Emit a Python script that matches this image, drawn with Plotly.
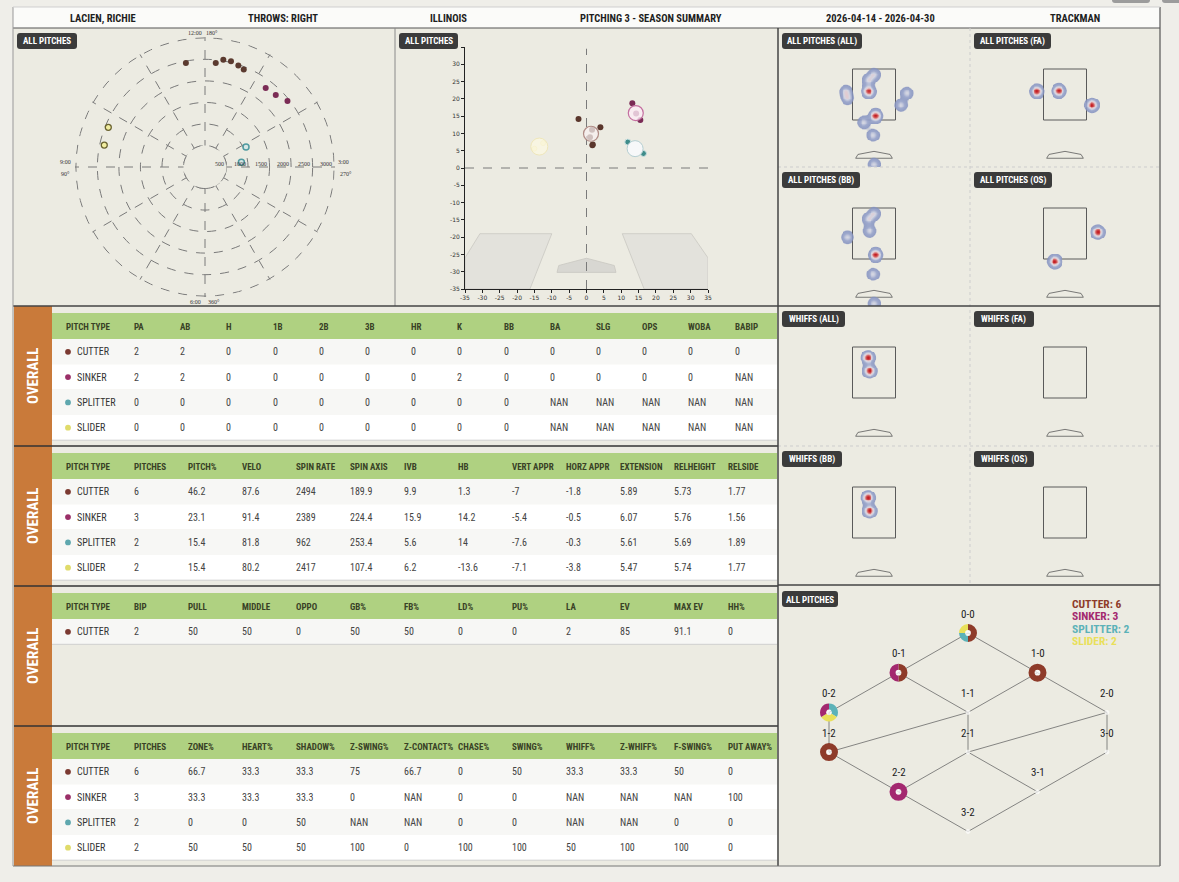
import numpy as np
import plotly.graph_objects as go

W, H = 1179, 882
FONT = "Roboto Condensed, Liberation Sans Narrow, DejaVu Sans Condensed, sans-serif"
SERIF = "Liberation Serif, DejaVu Serif, serif"

PAGE_BG = "#efeee9"
PANEL_BG = "#ecebe2"
HEADER_BG = "#fbfbf9"
GREEN = "#afd181"
ORANGE = "#c97a3a"
BADGE = "#3b3b3b"

# header strip
HEADER_TEXT = ["LACIEN, RICHIE", "THROWS: RIGHT", "ILLINOIS", "PITCHING 3 - SEASON SUMMARY",
               "2026-04-14 - 2026-04-30", "TRACKMAN"]
HEADER_X = [103, 283, 448, 651, 880, 1075]

PITCH_TYPES = ["CUTTER", "SINKER", "SPLITTER", "SLIDER"]
DOT_COLORS = ["#7b3a31", "#9a2f68", "#5ea7ae", "#e0db6a"]
TREE_COLORS = ["#8e3b2a", "#a3286f", "#5cb2b8", "#e9e05a"]

# spin axis (deg) and spin rate (rpm) per pitch
CUT_AXIS = [169.6, 185.9, 189.7, 193.8, 198.2, 201.7]
CUT_RATE = [2458, 2430, 2525, 2530, 2480, 2435]
SNK_AXIS = [217.5, 224.5, 231.3]
SNK_RATE = [2316, 2346, 2455]
SPL_AXIS = [244.0, 262.7]
SPL_RATE = [1060, 852]
SLD_AXIS = [112.3, 102.3]
SLD_RATE = [2428, 2395]
RATE_TICKS = [500, 1000, 1500, 2000, 2500, 3000]

# horizontal break / induced vertical break per pitch (in)
CUT_HB = [-2.3, 4.0, 1.7, 1.6, 1.0, 1.8]
CUT_IVB = [14.2, 11.8, 6.6, 11.1, 8.9, 6.8]
SNK_HB = [13.2, 15.5, 14.3]
SNK_IVB = [18.7, 13.9, 15.8]
SPL_HB = [11.9, 16.4]
SPL_IVB = [7.5, 4.2]
SLD_HB = [-15.0, -12.5]
SLD_IVB = [5.6, 7.2]

# plate locations (ft)
FA_X = [-1.08, -0.23, 1.05]
FA_Z = [2.62, 2.64, 2.08]
BB_X = [-0.20, 0.01, -0.16, -1.02, 0.07, 0.07, -0.03, 0.01]
BB_Z = [3.06, 3.28, 2.60, 2.35, 1.66, 1.66, 0.90, -0.25]
OS_X = [1.28, -0.39]
OS_Z = [2.55, 1.40]
WHIFF_BB_X = [-0.22, -0.16]
WHIFF_BB_Z = [3.08, 2.56]

# tables
T1_HEAD = ["PITCH TYPE", "PA", "AB", "H", "1B", "2B", "3B", "HR", "K", "BB", "BA", "SLG", "OPS", "WOBA", "BABIP"]
T1_ROWS = [
    ["CUTTER", "2", "2", "0", "0", "0", "0", "0", "0", "0", "0", "0", "0", "0", "0"],
    ["SINKER", "2", "2", "0", "0", "0", "0", "0", "2", "0", "0", "0", "0", "0", "NAN"],
    ["SPLITTER", "0", "0", "0", "0", "0", "0", "0", "0", "0", "NAN", "NAN", "NAN", "NAN", "NAN"],
    ["SLIDER", "0", "0", "0", "0", "0", "0", "0", "0", "0", "NAN", "NAN", "NAN", "NAN", "NAN"],
]
T2_HEAD = ["PITCH TYPE", "PITCHES", "PITCH%", "VELO", "SPIN RATE", "SPIN AXIS", "IVB", "HB",
           "VERT APPR", "HORZ APPR", "EXTENSION", "RELHEIGHT", "RELSIDE"]
T2_ROWS = [
    ["CUTTER", "6", "46.2", "87.6", "2494", "189.9", "9.9", "1.3", "-7", "-1.8", "5.89", "5.73", "1.77"],
    ["SINKER", "3", "23.1", "91.4", "2389", "224.4", "15.9", "14.2", "-5.4", "-0.5", "6.07", "5.76", "1.56"],
    ["SPLITTER", "2", "15.4", "81.8", "962", "253.4", "5.6", "14", "-7.6", "-0.3", "5.61", "5.69", "1.89"],
    ["SLIDER", "2", "15.4", "80.2", "2417", "107.4", "6.2", "-13.6", "-7.1", "-3.8", "5.47", "5.74", "1.77"],
]
T3_HEAD = ["PITCH TYPE", "BIP", "PULL", "MIDDLE", "OPPO", "GB%", "FB%", "LD%", "PU%", "LA", "EV", "MAX EV", "HH%"]
T3_ROWS = [
    ["CUTTER", "2", "50", "50", "0", "50", "50", "0", "0", "2", "85", "91.1", "0"],
]
T4_HEAD = ["PITCH TYPE", "PITCHES", "ZONE%", "HEART%", "SHADOW%", "Z-SWING%", "Z-CONTACT%", "CHASE%",
           "SWING%", "WHIFF%", "Z-WHIFF%", "F-SWING%", "PUT AWAY%"]
T4_ROWS = [
    ["CUTTER", "6", "66.7", "33.3", "33.3", "75", "66.7", "0", "50", "33.3", "33.3", "50", "0"],
    ["SINKER", "3", "33.3", "33.3", "33.3", "0", "NAN", "0", "0", "NAN", "NAN", "NAN", "100"],
    ["SPLITTER", "2", "0", "0", "50", "NAN", "NAN", "0", "0", "NAN", "NAN", "0", "0"],
    ["SLIDER", "2", "50", "50", "50", "100", "0", "100", "100", "50", "100", "100", "0"],
]

# count tree
COUNTS = ["0-0", "0-1", "1-0", "0-2", "1-1", "2-0", "1-2", "2-1", "3-0", "2-2", "3-1", "3-2"]
COUNT_COL = [0, -1, 1, -2, 0, 2, -2, 0, 2, -1, 1, 0]
COUNT_ROW = [0, 1, 1, 2, 2, 2, 3, 3, 3, 4, 4, 5]
COUNT_EDGES = [("0-0", "0-1"), ("0-0", "1-0"), ("0-1", "0-2"), ("0-1", "1-1"), ("1-0", "1-1"),
               ("1-0", "2-0"), ("0-2", "1-2"), ("1-1", "1-2"), ("1-1", "2-1"), ("2-0", "2-1"),
               ("2-0", "3-0"), ("1-2", "2-2"), ("2-1", "2-2"), ("2-1", "3-1"), ("3-0", "3-1"),
               ("2-2", "3-2"), ("3-1", "3-2")]
# pitch mix per count: (pitch type index, pitches)
COUNT_MIX = {
    "0-0": ([0, 2, 3], [2, 1, 1]),
    "0-1": ([0, 1], [1, 1]),
    "1-0": ([0], [2]),
    "0-2": ([2, 3, 1], [1, 1, 1]),
    "1-2": ([0], [1]),
    "2-2": ([1], [1]),
}

shapes, notes = [], []


def fx(x):
    return x / W


def fy(y):
    return 1 - y / H


def rect(x0, y0, x1, y1, fill, layer="below"):
    shapes.append(dict(type="rect", xref="paper", yref="paper", x0=fx(x0), x1=fx(x1), y0=fy(y1), y1=fy(y0),
                       fillcolor=fill, line=dict(width=0), layer=layer))


def seg(x0, y0, x1, y1, color, width=1, dash="solid"):
    shapes.append(dict(type="line", xref="paper", yref="paper", x0=fx(x0), y0=fy(y0), x1=fx(x1), y1=fy(y1),
                       line=dict(color=color, width=width, dash=dash), layer="above"))


def dot(cx, cy, r, color):
    shapes.append(dict(type="circle", xref="paper", yref="paper", x0=fx(cx - r), x1=fx(cx + r),
                       y0=fy(cy + r), y1=fy(cy - r), fillcolor=color, line=dict(width=0), layer="above"))


def rounded(x0, y0, x1, y1, r, fill):
    p = lambda x, y: f"{fx(x):.5f},{fy(y):.5f}"
    path = (f"M {p(x0 + r, y0)} L {p(x1 - r, y0)} Q {p(x1, y0)} {p(x1, y0 + r)} "
            f"L {p(x1, y1 - r)} Q {p(x1, y1)} {p(x1 - r, y1)} L {p(x0 + r, y1)} "
            f"Q {p(x0, y1)} {p(x0, y1 - r)} L {p(x0, y0 + r)} Q {p(x0, y0)} {p(x0 + r, y0)} Z")
    shapes.append(dict(type="path", path=path, xref="paper", yref="paper", fillcolor=fill,
                       line=dict(width=0), layer="above"))


def text(x, y, s, size=9, color="#333", bold=False, anchor="left", angle=0, family=FONT):
    notes.append(dict(x=fx(x), y=fy(y), xref="paper", yref="paper", text=f"<b>{s}</b>" if bold else s,
                      showarrow=False, xanchor=anchor, yanchor="middle", textangle=angle, borderpad=0,
                      font=dict(family=family, size=size, color=color)))


def badge(x0, y0, x1, label):
    rounded(x0, y0, x1, y0 + 16, 3, BADGE)
    text((x0 + x1) / 2, y0 + 8.5, label, 9, "white", True, "center")


# frame and header
rect(13, 7, 1160, 866, PANEL_BG)
rect(13, 7, 1160, 28, HEADER_BG)
for s, x in zip(HEADER_TEXT, HEADER_X):
    text(x, 18, s, 10.5, "#1e1e1e", True, "center")
rounded(1112, -6, 1150, 3, 3, "#9c9c9c")
rounded(1162, -6, 1190, 3, 3, "#9c9c9c")

fig = go.Figure()

# ---- spin axis polar (center 205,167 ; 3000 rpm = 129 px)
ring = np.linspace(0, 360, 73)
fig.add_trace(go.Scatterpolar(r=[500] * len(ring), theta=ring, mode="lines", fill="toself",
                              fillcolor=PANEL_BG, line=dict(color="#7a7a7a", width=1, dash="dash"),
                              hoverinfo="skip", subplot="polar"))
fig.add_trace(go.Scatterpolar(r=[3000] * len(ring), theta=ring, mode="lines",
                              line=dict(color="#7a7a7a", width=1, dash="dash"),
                              hoverinfo="skip", subplot="polar"))
fig.add_trace(go.Scatterpolar(r=CUT_RATE, theta=CUT_AXIS, mode="markers", subplot="polar",
                              marker=dict(size=6, color="#5b3a2f")))
fig.add_trace(go.Scatterpolar(r=SNK_RATE, theta=SNK_AXIS, mode="markers", subplot="polar",
                              marker=dict(size=6, color="#7b2c55")))
fig.add_trace(go.Scatterpolar(r=SPL_RATE, theta=SPL_AXIS, mode="markers", subplot="polar",
                              marker=dict(size=6, color="#d6e6e4", line=dict(color="#4f9aa0", width=1.5))))
fig.add_trace(go.Scatterpolar(r=SLD_RATE, theta=SLD_AXIS, mode="markers", subplot="polar",
                              marker=dict(size=6, color="#f1eda0", line=dict(color="#6a6330", width=1.3))))

for v in RATE_TICKS:
    text(205 + v / 3000 * 129 - 1.5, 163.5, str(v), 6, "#333", False, "right", family=SERIF)
for s, x, y in [("12:00", 195, 33), ("180°", 212, 33), ("9:00", 65, 162), ("90°", 65, 174),
                ("3:00", 343, 162), ("270°", 346, 174), ("6:00", 195, 302), ("360°", 214, 302)]:
    text(x, y, s, 6, "#333", False, "center", family=SERIF)
badge(17, 33, 77, "ALL PITCHES")

# ---- movement plot
def poly(pts):
    return "M " + " L ".join(f"{a},{b}" for a, b in pts) + " Z"


BOX_L = [(-35, -26), (-30.7, -19), (-10, -19), (-16.3, -35), (-35, -35)]
BOX_R = [(10.3, -19), (30.2, -19), (35, -26), (35, -35), (16.6, -35)]
PLATE_MV = [(-8.5, -30.2), (-8, -28.2), (0, -26.1), (8, -28.2), (8.5, -30.2)]
for pts, fill in [(BOX_L, "rgba(226,225,219,0.9)"), (BOX_R, "rgba(226,225,219,0.9)"), (PLATE_MV, "#d8d7d2")]:
    shapes.append(dict(type="path", path=poly(pts), xref="x", yref="y", fillcolor=fill,
                       line=dict(color="#c9c8c2", width=0.8), layer="below"))
shapes.append(dict(type="line", xref="x", yref="y", x0=0, x1=0, y0=-35, y1=34.5,
                   line=dict(color="#7a7a7a", width=1, dash="dash"), layer="below"))
shapes.append(dict(type="line", xref="x", yref="y", x0=-35, x1=35, y0=0, y1=0,
                   line=dict(color="#7a7a7a", width=1, dash="dash"), layer="below"))

mv = [(CUT_HB, CUT_IVB, dict(size=6, color="#5a362c")),
      (SNK_HB, SNK_IVB, dict(size=6, color="#7a2a55")),
      (SPL_HB, SPL_IVB, dict(size=6, color="#3e8c8a", line=dict(color="#cfe3e3", width=1))),
      (SLD_HB, SLD_IVB, dict(size=5, color="#f0ebbf", line=dict(color="#e4dc9a", width=0.8)))]
for hb, ivb, mk in mv:
    fig.add_trace(go.Scatter(x=hb, y=ivb, mode="markers", marker=mk, xaxis="x", yaxis="y"))

MEAN_STYLE = [dict(size=15, color="rgba(248,240,240,0.75)", line=dict(color="#b08c86", width=1.2)),
              dict(size=15, color="rgba(252,236,245,0.8)", line=dict(color="#c46fa0", width=1.2)),
              dict(size=16, color="rgba(247,249,251,0.92)", line=dict(color="#b5cfd2", width=1)),
              dict(size=17, color="rgba(252,248,226,0.75)", line=dict(color="rgba(238,228,175,0.8)", width=1))]
for row, mk in zip(T2_ROWS, MEAN_STYLE):
    fig.add_trace(go.Scatter(x=[float(row[7])], y=[float(row[6])], mode="markers", marker=mk,
                             xaxis="x", yaxis="y"))
badge(399, 33, 458, "ALL PITCHES")

# ---- location heatmaps
ZONE_PANELS = [
    ("ALL PITCHES (ALL)", FA_X + BB_X + OS_X, FA_Z + BB_Z + OS_Z),
    ("ALL PITCHES (FA)", FA_X, FA_Z),
    ("ALL PITCHES (BB)", BB_X, BB_Z),
    ("ALL PITCHES (OS)", OS_X, OS_Z),
    ("WHIFFS (ALL)", WHIFF_BB_X, WHIFF_BB_Z),
    ("WHIFFS (FA)", [], []),
    ("WHIFFS (BB)", WHIFF_BB_X, WHIFF_BB_Z),
    ("WHIFFS (OS)", [], []),
]
BADGE_W = [80, 77, 78, 78, 63, 60, 60, 60]
COL_L, COL_R = [778, 970], [970, 1160]
ROW_T, ROW_B = [28, 167, 306, 446], [167, 306, 446, 585]
HEAT_SCALE = [[0.0, "rgba(140,150,200,0)"], [0.07, "rgba(140,150,200,0)"],
              [0.12, "rgba(132,146,192,0.85)"], [0.3, "rgba(155,166,204,0.95)"],
              [0.5, "rgba(212,214,226,1)"], [0.65, "rgba(229,200,204,1)"],
              [0.82, "rgba(214,110,110,1)"], [1.0, "rgba(196,30,35,1)"]]
gx = np.arange(-2.0, 2.01, 0.035)
gz = np.arange(-1.0, 4.2, 0.035)
GX, GZ = np.meshgrid(gx, gz)
axes = {}
for k, (label, xs, zs) in enumerate(ZONE_PANELS):
    n = k + 2
    c, r = k % 2, k // 2
    l, rt, t, b = COL_L[c], COL_R[c], ROW_T[r], ROW_B[r]
    half = (rt - l) / 2 / 25.9
    axes[f"xaxis{n}"] = dict(domain=[fx(l), fx(rt)], range=[-half, half], visible=False,
                             fixedrange=True, anchor=f"y{n}")
    axes[f"yaxis{n}"] = dict(domain=[fy(b), fy(t)], range=[3.5 - (b - t - 41) / 25.5, 3.5 + 41 / 25.5],
                             visible=False, fixedrange=True, anchor=f"x{n}")
    if xs:
        dens = np.zeros_like(GX)
        for x0, z0 in zip(xs, zs):
            dens += np.exp(-((GX - x0) ** 2 + (GZ - z0) ** 2) / (2 * 0.14 ** 2))
        dens = np.round(dens / dens.max(), 3)
        fig.add_trace(go.Heatmap(x=gx, y=gz, z=dens, zmin=0, zmax=1, colorscale=HEAT_SCALE,
                                 showscale=False, hoverinfo="skip", xaxis=f"x{n}", yaxis=f"y{n}"))
    shapes.append(dict(type="rect", xref=f"x{n}", yref=f"y{n}", x0=-0.83, x1=0.83, y0=1.5, y1=3.5,
                       line=dict(color="#5a5a5a", width=1), layer="below"))
    shapes.append(dict(type="path", xref=f"x{n}", yref=f"y{n}",
                       path="M -0.708,0 L -0.62,0.15 L 0,0.27 L 0.62,0.15 L 0.708,0 Z",
                       line=dict(color="#5a5a5a", width=0.8), layer="below"))
    badge(l + 4, t + 5, l + 4 + BADGE_W[k], label)

# ---- count tree (pixel axis over the whole page)
axes["xaxis10"] = dict(domain=[0, 1], range=[0, W], visible=False, fixedrange=True, anchor="y10")
axes["yaxis10"] = dict(domain=[0, 1], range=[H, 0], visible=False, fixedrange=True, anchor="x10")
node = {cnt: (968 + col * 69.5, 633 + row * 39.7) for cnt, col, row in zip(COUNTS, COUNT_COL, COUNT_ROW)}
ex, ey = [], []
for a, b in COUNT_EDGES:
    ex += [node[a][0], node[b][0], None]
    ey += [node[a][1], node[b][1], None]
fig.add_trace(go.Scatter(x=ex, y=ey, mode="lines", line=dict(color="#6a6a6a", width=0.8),
                         xaxis="x10", yaxis="y10", hoverinfo="skip"))
fig.add_trace(go.Scatter(x=[node[c][0] for c in COUNTS], y=[node[c][1] for c in COUNTS], mode="markers",
                         marker=dict(size=[6 if c in COUNT_MIX else 4 for c in COUNTS], color="white"),
                         xaxis="x10", yaxis="y10", hoverinfo="skip"))
for cnt in COUNTS:
    x, y = node[cnt]
    text(x, y - 19, cnt, 11, "#222", False, "center")
for cnt, (idx, vals) in COUNT_MIX.items():
    x, y = node[cnt]
    fig.add_trace(go.Pie(values=vals, labels=[PITCH_TYPES[i] for i in idx],
                         marker=dict(colors=[TREE_COLORS[i] for i in idx], line=dict(width=0)),
                         hole=0.32, sort=False, direction="clockwise", rotation=0, textinfo="none",
                         hoverinfo="skip", domain=dict(x=[fx(x - 9), fx(x + 9)], y=[fy(y + 9), fy(y - 9)])))
for i, (name, row) in enumerate(zip(PITCH_TYPES, T2_ROWS)):
    text(1071, 604 + i * 12.4, f"{name}: {row[1]}", 11.5, TREE_COLORS[i], True)
badge(782, 591, 838, "ALL PITCHES")

# ---- tables
SEC_T = [306, 446, 586, 726]
SEC_B = [446, 586, 726, 866]
X14 = [65] + [133 + 46.2 * i for i in range(14)]
X12 = [65] + [133 + 54 * i for i in range(12)]
for s, (head, rows, cx) in enumerate([(T1_HEAD, T1_ROWS, X14), (T2_HEAD, T2_ROWS, X12),
                                      (T3_HEAD, T3_ROWS, X12), (T4_HEAD, T4_ROWS, X12)]):
    top = SEC_T[s]
    rect(14, top, 52, SEC_B[s], ORANGE)
    text(33, (top + SEC_B[s]) / 2, "OVERALL", 15, "white", True, "center", angle=-90)
    y0 = top + 7
    rect(52, y0, 777, y0 + 26, GREEN)
    for h, x in zip(head, cx):
        text(x, y0 + 13.5, h, 9, "#394226", True)
    ry = y0 + 26
    for r, row in enumerate(rows):
        rect(52, ry, 777, ry + 25.3, "#f7f7f5" if r % 2 == 0 else "#ffffff")
        pi = PITCH_TYPES.index(row[0])
        dot(68, ry + 12.8, 2.9, DOT_COLORS[pi])
        text(76, ry + 12.8, row[0], 10, "#333")
        for v, x in zip(row[1:], cx[1:]):
            text(x, ry + 12.8, v, 10, "#444")
        ry += 25.3
    seg(52, ry, 777, ry, "#cfcfcf", 1)

# panel borders
seg(13, 28, 1160, 28, "#555", 1.2)
seg(395, 28, 395, 306, "#8a8a8a", 1)
seg(970, 28, 970, 585, "#cdcdcd", 1, "dot")
seg(778, 167, 1160, 167, "#cdcdcd", 1, "dot")
seg(778, 446, 1160, 446, "#cdcdcd", 1, "dot")
seg(13, 306, 1160, 306, "#444", 1.5)
for y in SEC_T[1:]:
    seg(14, y, 778, y, "#333", 1.5)
seg(778, 585, 1160, 585, "#444", 1.5)
seg(778, 28, 778, 866, "#444", 1.5)
seg(1160, 7, 1160, 866, "#555", 1.2)
seg(13, 866, 1160, 866, "#777", 1)
seg(13, 7, 13, 866, "#999", 1)
seg(13, 7, 1160, 7, "#cfcfcf", 1)

MV_TICKS = list(range(-35, 36, 5))
mv_axis = dict(range=[-35, 35], tickvals=MV_TICKS, showgrid=False, zeroline=False,
               showline=True, linecolor="#222", linewidth=1, ticks="outside", ticklen=3, tickcolor="#222",
               tickfont=dict(size=6, color="#333", family="DejaVu Sans"), fixedrange=True)

fig.update_layout(
    width=W, height=H, margin=dict(l=0, r=0, t=0, b=0, autoexpand=False),
    paper_bgcolor=PAGE_BG, plot_bgcolor="rgba(0,0,0,0)", showlegend=False,
    xaxis=dict(domain=[fx(465), fx(708)], anchor="y", ticktext=[str(v) for v in MV_TICKS], **mv_axis),
    yaxis=dict(domain=[fy(289), fy(47)], anchor="x",
               ticktext=[str(v) if v < 35 else "" for v in MV_TICKS], **mv_axis),
    polar=dict(
        domain=dict(x=[fx(75), fx(335)], y=[fy(297), fy(37)]),
        bgcolor="rgba(0,0,0,0)",
        angularaxis=dict(rotation=270, direction="clockwise", dtick=30, showticklabels=False, ticks="",
                         showline=False, gridcolor="#7a7a7a", griddash="dash", gridwidth=1),
        radialaxis=dict(range=[0, 3020], tickvals=RATE_TICKS, ticks="", showticklabels=False,
                        showline=False, angle=0, gridcolor="#7a7a7a", griddash="dash", gridwidth=1),
    ),
    shapes=shapes, annotations=notes, font=dict(family=FONT),
    **axes,
)

fig.write_html("out.html", config={"displayModeBar": False},
               post_script="document.body.style.margin='0';document.body.style.overflow='hidden';")
